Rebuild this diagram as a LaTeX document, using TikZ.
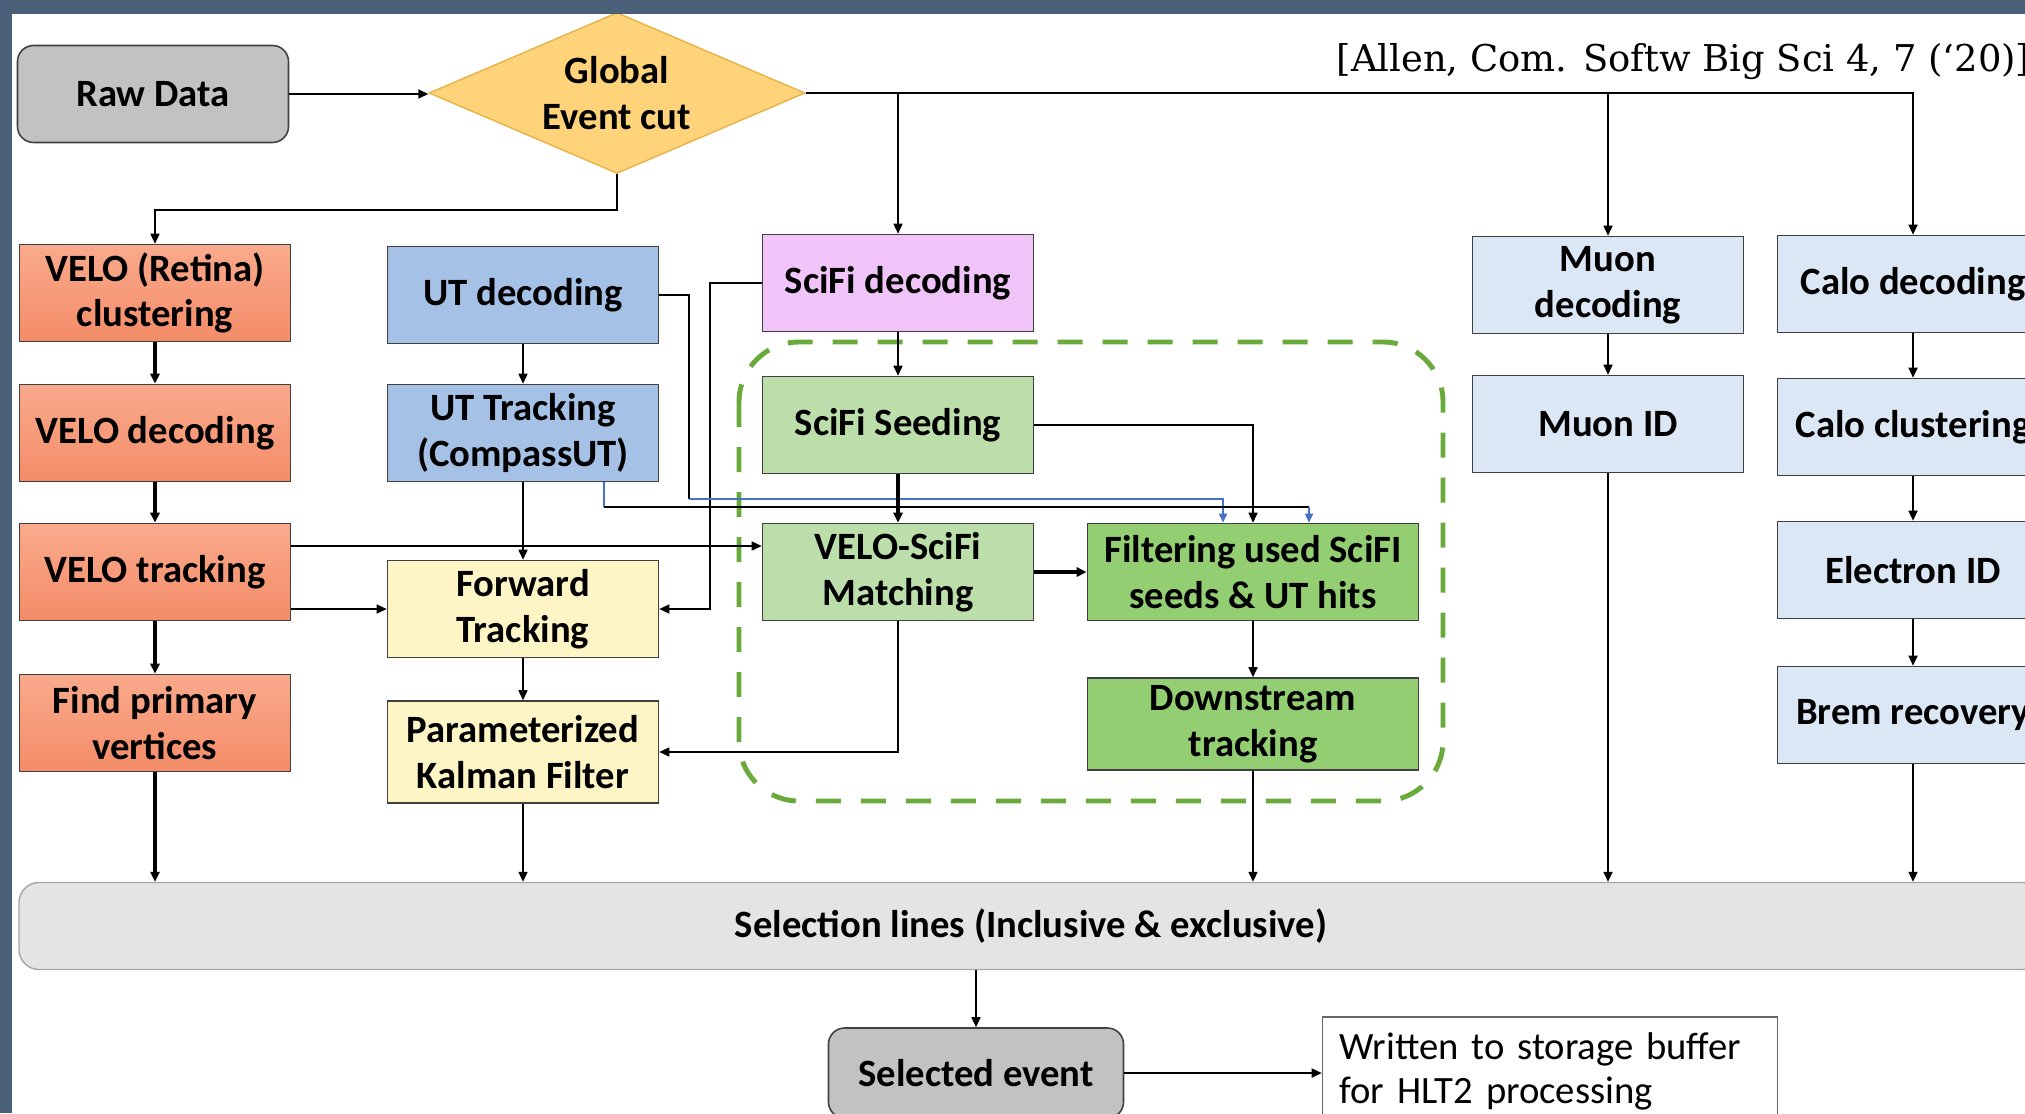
\documentclass[tikz,border=0pt]{standalone}
\usepackage{fontspec}
\setmainfont{Carlito}
\newfontfamily\citefont{DejaVu Serif}
\usetikzlibrary{shapes.geometric,arrows.meta}

\definecolor{framecol}{RGB}{74,95,120}
\definecolor{velotop}{RGB}{249,170,140}
\definecolor{velobot}{RGB}{244,140,104}
\definecolor{utcol}{RGB}{165,193,230}
\definecolor{fwdcol}{RGB}{253,245,198}
\definecolor{scificol}{RGB}{240,196,248}
\definecolor{seedcol}{RGB}{188,222,170}
\definecolor{filtcol}{RGB}{147,206,114}
\definecolor{calocol}{RGB}{219,231,245}
\definecolor{rawcol}{RGB}{194,194,194}
\definecolor{geccol}{RGB}{255,211,122}
\definecolor{gecedge}{RGB}{232,178,72}
\definecolor{selcol}{RGB}{228,228,228}
\definecolor{dashcol}{RGB}{106,170,58}
\definecolor{utblue}{RGB}{68,114,196}

\tikzset{
  box/.style={draw=black!75, line width=0.45pt, minimum width=27.1mm, minimum height=9.7mm,
    inner sep=1pt, align=center, font=\fontsize{11}{13}\selectfont\bfseries},
  velobox/.style={box, top color=velotop, bottom color=velobot},
  gecbox/.style={diamond, shape aspect=2.34, draw=gecedge, fill=geccol, minimum width=37.6mm,
    minimum height=16.1mm, inner sep=0pt, align=center, font=\fontsize{11}{13}\selectfont\bfseries},
  roundbox/.style={box, fill=rawcol, rounded corners=1.6mm},
  selbar/.style={draw=black!35, fill=selcol, rounded corners=2mm, minimum width=202.4mm,
    minimum height=8.7mm, font=\fontsize{11}{13}\selectfont\bfseries},
  notebox/.style={draw=black!60, line width=0.45pt, fill=white, minimum height=10.8mm, inner xsep=1.7mm,
    text width=42.1mm, align=left, font=\fontsize{11}{12.5}\selectfont},
  arr/.style={line width=0.45pt, -{Triangle[length=1mm,width=0.9mm]}},
  thickarr/.style={arr, line width=0.9pt},
  bluearr/.style={arr, utblue, -{Triangle[length=0.9mm,width=0.8mm]}},
  dashbox/.style={dashcol, line width=1.4pt, dash pattern=on 2.5mm off 2mm, rounded corners=6mm}
}

\begin{document}
\begin{tikzpicture}[x=0.1mm,y=-0.1mm]
    \useasboundingbox (0,0) rectangle (2025,1113);
    \clip (0,0) rectangle (2025,1113);

    \draw[dashbox] (739,342) rectangle (1443,801);

    \node[roundbox] (raw) at (153,94) {Raw Data};
    \node[gecbox] (gec) at (617,93) {Global\\Event cut};

    \node[velobox] (vclus) at (155,293) {VELO (Retina)\\clustering};
    \node[velobox] (vdec) at (155,433) {VELO decoding};
    \node[velobox] (vtrk) at (155,572) {VELO tracking};
    \node[velobox] (pv) at (155,723) {Find primary\\vertices};

    \node[box, fill=utcol] (utdec) at (523,295) {UT decoding};
    \node[box, fill=utcol] (uttrk) at (523,433) {UT Tracking\\(CompassUT)};
    \node[box, fill=fwdcol] (fwd) at (523,609) {Forward\\Tracking};
    \node[box, fill=fwdcol, minimum height=10.2mm] (pkf) at (523,752) {Parameterized\\Kalman Filter};

    \node[box, fill=scificol] (sfdec) at (898,283) {SciFi decoding};
    \node[box, fill=seedcol] (seed) at (898,425) {SciFi Seeding};
    \node[box, fill=seedcol] (match) at (898,572) {VELO-SciFi\\Matching};
    \node[box, fill=filtcol, minimum width=33.1mm] (filt) at (1253,572) {Filtering used SciFI\\seeds \& UT hits};
    \node[box, fill=filtcol, minimum width=33.1mm, minimum height=9.2mm] (down) at (1253,724) {Downstream\\tracking};

    \node[box, fill=calocol] (mudec) at (1608,285) {Muon\\decoding};
    \node[box, fill=calocol] (muid) at (1608,424) {Muon ID};
    \node[box, fill=calocol] (cadec) at (1913,284) {Calo decoding};
    \node[box, fill=calocol] (caclus) at (1913,427) {Calo clustering};
    \node[box, fill=calocol] (eid) at (1913,570) {Electron ID};
    \node[box, fill=calocol] (brem) at (1913,715) {Brem recovery};

    \node[selbar] (sel) at (1031,926) {Selection lines (Inclusive \& exclusive)};
    \node[roundbox, minimum width=29.5mm, minimum height=9mm] (selev) at (976,1073) {Selected event};
    \node[notebox] (store) at (1550,1071) {Written to storage buffer\\for HLT2 processing};

    \node[anchor=base west, inner sep=0pt, font=\citefont\fontsize{10.5}{12}\selectfont] (cite) at (1336,71)
        {[Allen, Com. Softw Big Sci 4, 7 (‘20)]};

    \coordinate (uthit) at (689,499);
    \coordinate (utseg) at (604,507);
    \coordinate (utend) at (1309,507);

    \draw[arr] (raw.east) -- (raw.east -| gec.west);
    \draw[arr] (gec.south) -- ++(0,36) -| (vclus.north);
    \draw[arr] (gec.east) -| (cadec.north);
    \foreach \n in {sfdec,mudec} \draw[arr] (gec.east -| \n.north) -- (\n.north);

    \foreach \a/\b in {vclus/vdec,vdec/vtrk,vtrk/pv} \draw[thickarr] (\a.south) -- (\b.north);
    \draw[thickarr] (pv.south) -- (pv.south |- sel.north);
    \draw[arr] ([yshift=2.6mm]vtrk.east) -- ([yshift=2.6mm]vtrk.east -| match.west);
    \draw[arr] (fwd.west -| vtrk.east) -- (fwd.west);

    \foreach \a/\b in {utdec/uttrk,uttrk/fwd,fwd/pkf} \draw[arr] (\a.south) -- (\b.north);
    \draw[arr] (pkf.south) -- (pkf.south |- sel.north);
    \draw[arr] (sfdec.west) -- ++(-52,0) |- (fwd.east);
    \draw (utdec.east) -| (uthit);
    \draw[bluearr] (uthit) -| ([xshift=-3mm]filt.north);
    \draw[utblue, line width=0.45pt] (utseg |- uttrk.south) -- (utseg);
    \draw[line width=0.45pt] (utseg) -- (utend);
    \draw[bluearr] (utend) -- (utend |- filt.north);

    \draw[arr] (sfdec.south) -- (seed.north);
    \draw[thickarr] (seed.south) -- (match.north);
    \draw[arr] (seed.east) -| (filt.north);
    \draw[thickarr] (match.east) -- (filt.west);
    \draw[arr] (match.south) |- (pkf.east);
    \draw[arr] (filt.south) -- (down.north);
    \draw[arr] (down.south) -- (down.south |- sel.north);

    \draw[arr] (mudec.south) -- (muid.north);
    \draw[arr] (muid.south) -- (muid.south |- sel.north);
    \foreach \a/\b in {cadec/caclus,caclus/eid,eid/brem} \draw[arr] (\a.south) -- (\b.north);
    \draw[arr] (brem.south) -- (brem.south |- sel.north);

    \draw[arr] (sel.south -| selev.north) -- (selev.north);
    \draw[arr] (selev.east) -- (selev.east -| store.west);

    \fill[framecol] (0,0) rectangle (2025,14);
    \fill[framecol] (0,0) rectangle (12,1113);
\end{tikzpicture}
\end{document}
